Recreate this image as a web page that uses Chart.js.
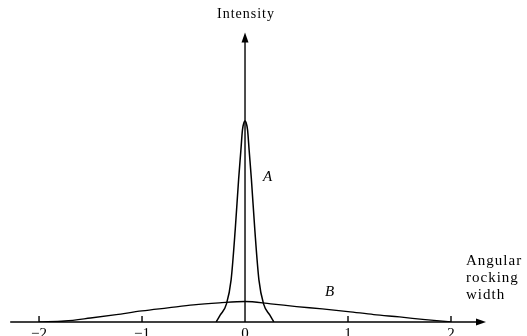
<!DOCTYPE html>
<html>
<head>
<meta charset="utf-8">
<script src="https://cdn.jsdelivr.net/npm/chart.js@4"></script>
<style>
  body { margin: 0; background: #fff; }
  canvas { display: block; }
</style>
</head>
<body>
<canvas id="grafico" width="527" height="336"></canvas>
<script>
// curva A - pico estreito
const xA = [-0.28, -0.24, -0.18, -0.135, -0.095, -0.062, -0.04, -0.025, -0.01, 0, 0.01, 0.025, 0.04, 0.062, 0.095, 0.135, 0.18, 0.24, 0.28]
const yA = [0, 3.5, 9, 21, 46, 71, 85.5, 95.5, 99.3, 100, 99.3, 95.5, 85.5, 71, 46, 21, 9, 3.5, 0]

// curva B - larga e baixa
const xB = [-2, -1.75, -1.5, -1.25, -1, -0.75, -0.5, -0.25, 0, 0.25, 0.5, 0.75, 1, 1.25, 1.5, 1.75, 2]
const yB = [0, 0.5, 2, 3.7, 5.5, 7, 8.5, 9.5, 10.2, 9, 7.7, 6.5, 5.2, 3.7, 2.5, 1.2, 0]

const xTicks = [-2, -1, 0, 1, 2]

const serif = '"Liberation Serif", "DejaVu Serif", serif'

const eixos = {
    id: 'eixos',
    afterDatasetsDraw(chart) {
        const ctx = chart.ctx
        const sx = chart.scales.x
        const sy = chart.scales.y
        const y0 = sy.getPixelForValue(0)
        const x0 = sx.getPixelForValue(0)
        ctx.save()
        ctx.strokeStyle = '#000'
        ctx.fillStyle = '#000'
        ctx.lineWidth = 1.4

        // eixo horizontal
        const xl = sx.getPixelForValue(-2.28)
        const xr = sx.getPixelForValue(2.34)
        ctx.beginPath()
        ctx.moveTo(xl, y0)
        ctx.lineTo(xr - 6, y0)
        ctx.stroke()
        ctx.beginPath()
        ctx.moveTo(xr, y0)
        ctx.lineTo(xr - 10, y0 - 3.5)
        ctx.lineTo(xr - 10, y0 + 3.5)
        ctx.closePath()
        ctx.fill()

        // eixo vertical
        const yt = sy.getPixelForValue(144)
        ctx.beginPath()
        ctx.moveTo(x0, y0)
        ctx.lineTo(x0, yt + 6)
        ctx.stroke()
        ctx.beginPath()
        ctx.moveTo(x0, yt)
        ctx.lineTo(x0 - 3.5, yt + 10)
        ctx.lineTo(x0 + 3.5, yt + 10)
        ctx.closePath()
        ctx.fill()

        // marcas
        xTicks.forEach(v => {
            if (v === 0) return
            const px = sx.getPixelForValue(v)
            ctx.beginPath()
            ctx.moveTo(px, y0)
            ctx.lineTo(px, y0 - 6)
            ctx.stroke()
        })

        // textos
        ctx.textAlign = 'center'
        ctx.textBaseline = 'middle'
        ctx.font = '14px ' + serif
        ctx.letterSpacing = '1px'
        ctx.fillText('Intensity', x0 + 1, 14)

        ctx.textAlign = 'left'
        ctx.font = '15px ' + serif
        ctx.fillText('Angular', 466, 261)
        ctx.fillText('rocking', 466, 278)
        ctx.fillText('width', 466, 295)

        ctx.letterSpacing = '0px'
        ctx.textAlign = 'center'
        ctx.font = 'italic 15px ' + serif
        ctx.fillText('A', sx.getPixelForValue(0.22), sy.getPixelForValue(72))
        ctx.fillText('B', sx.getPixelForValue(0.82), sy.getPixelForValue(15))
        ctx.restore()
    }
}

const data = {
    datasets: [
        {
            label: 'A',
            data: xA.map((x, i) => ({ x: x, y: yA[i] })),
            borderColor: '#000',
            borderWidth: 1.5,
            pointRadius: 0,
            showLine: true,
            cubicInterpolationMode: 'monotone',
        },
        {
            label: 'B',
            data: xB.map((x, i) => ({ x: x, y: yB[i] })),
            borderColor: '#000',
            borderWidth: 1.3,
            pointRadius: 0,
            showLine: true,
            cubicInterpolationMode: 'monotone',
        },
    ]
}

const config = {
    type: 'scatter',
    data: data,
    options: {
        responsive: false,
        animation: false,
        layout: { padding: 0 },
        plugins: {
            legend: { display: false },
            tooltip: { enabled: false },
        },
        scales: {
            x: {
                type: 'linear',
                min: -2.379,
                max: 2.738,
                grid: { display: false, drawTicks: false },
                border: { display: false },
                afterBuildTicks: s => { s.ticks = xTicks.map(v => ({ value: v })) },
                afterFit: s => { s.height = 14 },
                ticks: {
                    autoSkip: false,
                    maxRotation: 0,
                    padding: 3,
                    color: '#000',
                    font: { size: 15, family: serif },
                    callback: v => v < 0 ? '\u2212' + Math.abs(v) : String(v),
                },
            },
            y: {
                display: false,
                min: 0,
                max: 160.2,
            },
        },
    },
    plugins: [eixos],
}

const chart = new Chart(document.getElementById('grafico'), config)
</script>
</body>
</html>
